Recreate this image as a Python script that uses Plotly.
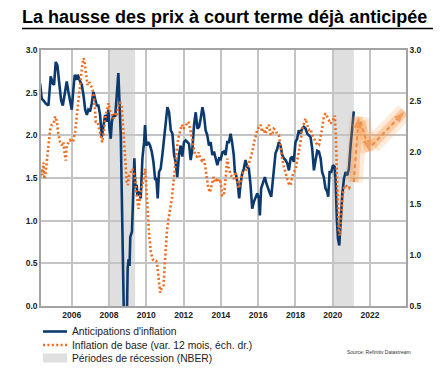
import plotly.graph_objects as go

# ---------------- data ----------------
blue_years = [2004.30, 2004.39, 2004.48, 2004.62, 2004.75, 2004.87, 2004.98, 2005.05, 2005.14, 2005.23,
              2005.32, 2005.43, 2005.52, 2005.64, 2005.73, 2005.82, 2005.91, 2006.00, 2006.09, 2006.16,
              2006.27, 2006.32, 2006.45, 2006.54, 2006.63, 2006.72, 2006.81, 2006.89, 2006.98, 2007.07,
              2007.16, 2007.25, 2007.34, 2007.43, 2007.52, 2007.61, 2007.70, 2007.79, 2007.88, 2007.97,
              2008.02, 2008.09, 2008.15, 2008.24, 2008.33, 2008.38, 2008.45, 2008.50, 2008.56, 2008.63,
              2008.70, 2008.77, 2008.85, 2008.93, 2009.00, 2009.05, 2009.10, 2009.14, 2009.23, 2009.30,
              2009.36, 2009.41, 2009.48, 2009.52, 2009.61, 2009.70, 2009.79, 2009.88, 2009.93, 2010.00,
              2010.11, 2010.20, 2010.29, 2010.38, 2010.47, 2010.54, 2010.61, 2010.68, 2010.77, 2010.86,
              2010.95, 2011.04, 2011.13, 2011.22, 2011.31, 2011.40, 2011.49, 2011.57, 2011.66, 2011.75,
              2011.84, 2011.93, 2012.02, 2012.11, 2012.20, 2012.29, 2012.38, 2012.47, 2012.56, 2012.65,
              2012.74, 2012.83, 2012.92, 2013.01, 2013.09, 2013.18, 2013.27, 2013.36, 2013.45, 2013.54,
              2013.63, 2013.72, 2013.81, 2013.90, 2013.99, 2014.08, 2014.16, 2014.25, 2014.34, 2014.43,
              2014.52, 2014.60, 2014.69, 2014.75, 2014.82, 2014.91, 2014.98, 2015.05, 2015.14, 2015.23,
              2015.32, 2015.41, 2015.50, 2015.59, 2015.68, 2015.77, 2015.86, 2015.95, 2016.04, 2016.09,
              2016.16, 2016.27, 2016.36, 2016.45, 2016.54, 2016.63, 2016.70, 2016.79, 2016.84, 2016.93,
              2017.02, 2017.11, 2017.20, 2017.29, 2017.38, 2017.47, 2017.56, 2017.65, 2017.74, 2017.82,
              2017.91, 2018.00, 2018.09, 2018.18, 2018.27, 2018.36, 2018.45, 2018.54, 2018.63, 2018.72,
              2018.81, 2018.90, 2018.99, 2019.08, 2019.17, 2019.26, 2019.35, 2019.43, 2019.52, 2019.61,
              2019.70, 2019.76, 2019.83, 2019.92, 2020.01, 2020.10, 2020.15, 2020.22, 2020.28, 2020.35,
              2020.42, 2020.51, 2020.60, 2020.69, 2020.78, 2020.87, 2020.96, 2021.04, 2021.13]
blue_vals = [2.61, 2.43, 2.41, 2.37, 2.35, 2.69, 2.61, 2.59, 2.86, 2.82,
             2.63, 2.41, 2.35, 2.53, 2.63, 2.51, 2.39, 2.30, 2.55, 2.71,
             2.65, 2.71, 2.63, 2.59, 2.47, 2.30, 2.24, 2.30, 2.28, 2.37,
             2.51, 2.43, 2.35, 2.35, 2.24, 1.98, 2.12, 2.24, 2.16, 2.30,
             2.08, 1.96, 2.16, 2.24, 2.22, 2.41, 2.55, 2.73, 2.39, 2.00,
             1.10, -0.10, -0.80, -0.50, 0.45, 0.55, 0.47, 0.81, 0.87, 1.34,
             1.73, 1.38, 1.42, 1.30, 1.34, 1.26, 1.73, 1.92, 2.12, 1.88,
             1.92, 1.88, 1.81, 1.69, 1.49, 1.49, 1.26, 1.57, 1.61, 1.77,
             1.96, 2.12, 2.33, 2.27, 2.06, 2.02, 1.77, 1.69, 1.51, 1.77,
             1.88, 1.75, 1.92, 1.94, 1.92, 1.90, 1.71, 1.84, 2.12, 2.27,
             2.08, 2.10, 2.20, 2.33, 2.24, 2.06, 2.00, 1.88, 1.92, 1.77,
             1.81, 1.71, 1.65, 1.73, 1.72, 1.80, 1.81, 1.77, 1.92, 1.92,
             2.02, 1.92, 1.77, 1.57, 1.53, 1.42, 1.26, 1.42, 1.55, 1.61,
             1.71, 1.63, 1.61, 1.42, 1.14, 1.22, 1.28, 1.32, 1.26, 1.06,
             1.38, 1.45, 1.51, 1.43, 1.36, 1.32, 1.28, 1.49, 1.53, 1.79,
             1.84, 1.92, 1.88, 1.77, 1.73, 1.71, 1.67, 1.59, 1.73, 1.75,
             1.69, 1.92, 1.96, 2.06, 2.02, 2.08, 2.10, 2.08, 2.02, 2.00,
             1.98, 1.84, 1.59, 1.71, 1.82, 1.81, 1.73, 1.57, 1.51, 1.38,
             1.34, 1.28, 1.57, 1.57, 1.65, 1.63, 1.49, 1.02, 0.79, 0.71,
             1.02, 1.30, 1.49, 1.57, 1.53, 1.61, 1.88, 2.12, 2.28]

orange_years = [2004.30, 2004.35, 2004.43, 2004.48, 2004.53, 2004.60, 2004.66, 2004.75, 2004.84, 2004.93,
                2005.02, 2005.11, 2005.19, 2005.28, 2005.37, 2005.46, 2005.55, 2005.61, 2005.68, 2005.73,
                2005.82, 2005.91, 2006.00, 2006.09, 2006.18, 2006.27, 2006.36, 2006.45, 2006.54, 2006.63,
                2006.68, 2006.75, 2006.84, 2006.93, 2007.02, 2007.11, 2007.16, 2007.22, 2007.29, 2007.38,
                2007.47, 2007.56, 2007.63, 2007.70, 2007.79, 2007.88, 2007.97, 2008.06, 2008.15, 2008.24,
                2008.33, 2008.42, 2008.50, 2008.59, 2008.68, 2008.77, 2008.86, 2008.95, 2009.01, 2009.08,
                2009.17, 2009.26, 2009.35, 2009.40, 2009.45, 2009.51, 2009.58, 2009.67, 2009.76, 2009.85,
                2009.94, 2009.99, 2010.06, 2010.15, 2010.24, 2010.33, 2010.42, 2010.53, 2010.60, 2010.67,
                2010.74, 2010.83, 2010.92, 2011.01, 2011.10, 2011.19, 2011.28, 2011.37, 2011.46, 2011.55,
                2011.64, 2011.72, 2011.81, 2011.90, 2011.99, 2012.08, 2012.17, 2012.26, 2012.35, 2012.44,
                2012.53, 2012.62, 2012.71, 2012.80, 2012.89, 2012.98, 2013.07, 2013.16, 2013.25, 2013.33,
                2013.42, 2013.51, 2013.60, 2013.69, 2013.78, 2013.87, 2013.96, 2014.07, 2014.16, 2014.25,
                2014.34, 2014.43, 2014.52, 2014.60, 2014.69, 2014.78, 2014.87, 2014.96, 2015.05, 2015.14,
                2015.23, 2015.32, 2015.41, 2015.50, 2015.59, 2015.68, 2015.77, 2015.86, 2015.95, 2016.04,
                2016.13, 2016.21, 2016.30, 2016.39, 2016.48, 2016.57, 2016.66, 2016.75, 2016.84, 2016.93,
                2017.02, 2017.11, 2017.20, 2017.29, 2017.38, 2017.47, 2017.56, 2017.65, 2017.74, 2017.82,
                2017.91, 2018.00, 2018.09, 2018.18, 2018.27, 2018.36, 2018.45, 2018.54, 2018.63, 2018.72,
                2018.81, 2018.90, 2018.99, 2019.08, 2019.17, 2019.26, 2019.35, 2019.43, 2019.52, 2019.61,
                2019.70, 2019.79, 2019.88, 2019.97, 2020.06, 2020.11, 2020.17, 2020.22, 2020.28, 2020.33,
                2020.38, 2020.45, 2020.53, 2020.60, 2020.69, 2020.78, 2020.87, 2020.96]
orange_vals = [1.76, 1.84, 1.78, 1.90, 1.74, 1.80, 1.91, 2.07, 2.22, 2.27,
               2.28, 2.35, 2.31, 2.18, 2.10, 2.07, 2.10, 2.00, 1.92, 2.07,
               2.10, 2.12, 2.10, 2.12, 2.20, 2.36, 2.53, 2.69, 2.82, 2.92,
               2.90, 2.79, 2.66, 2.69, 2.66, 2.62, 2.56, 2.49, 2.30, 2.30,
               2.23, 2.14, 2.10, 2.17, 2.33, 2.41, 2.48, 2.40, 2.36, 2.33,
               2.38, 2.36, 2.46, 2.49, 2.45, 2.20, 1.97, 1.71, 1.68, 1.78,
               1.81, 1.84, 1.78, 1.74, 1.63, 1.51, 1.45, 1.58, 1.65, 1.74,
               1.84, 1.68, 1.42, 1.19, 1.03, 0.96, 0.94, 0.94, 0.88, 0.76,
               0.63, 0.68, 0.70, 0.96, 1.22, 1.35, 1.45, 1.55, 1.71, 1.91,
               2.04, 2.14, 2.20, 2.27, 2.23, 2.25, 2.28, 2.30, 2.23, 2.14,
               2.04, 1.97, 1.96, 2.00, 1.94, 1.92, 1.94, 1.87, 1.74, 1.65,
               1.61, 1.68, 1.76, 1.71, 1.73, 1.71, 1.74, 1.58, 1.58, 1.74,
               1.94, 1.84, 1.78, 1.76, 1.74, 1.81, 1.71, 1.65, 1.71, 1.79,
               1.81, 1.83, 1.84, 1.89, 1.94, 2.00, 2.09, 2.17, 2.22, 2.25,
               2.27, 2.20, 2.23, 2.18, 2.25, 2.27, 2.18, 2.17, 2.23, 2.22,
               2.18, 2.17, 2.04, 1.94, 1.86, 1.79, 1.74, 1.69, 1.68, 1.76,
               1.81, 1.83, 1.91, 2.00, 2.10, 2.23, 2.28, 2.33, 2.27, 2.22,
               2.23, 2.17, 2.14, 2.10, 2.07, 2.07, 2.14, 2.23, 2.35, 2.38,
               2.35, 2.31, 2.28, 2.31, 2.33, 2.36, 2.14, 1.81, 1.48, 1.22,
               1.19, 1.38, 1.58, 1.65, 1.68, 1.66, 1.65, 1.69]

recession_start = [2007.96, 2020.05]
recession_end = [2009.40, 2021.13]

# projected path arrows (right axis)
arrow_x = [[2021.13, 2021.39], [2021.49, 2021.98], [2022.11, 2023.86]]
arrow_y = [[1.71, 2.35], [2.30, 2.01], [2.07, 2.40]]

x_ticks = [2006, 2008, 2010, 2012, 2014, 2016, 2018, 2020, 2022]
left_ticks = [0.0, 0.5, 1.0, 1.5, 2.0, 2.5, 3.0]
right_ticks = [0.5, 1.0, 1.5, 2.0, 2.5, 3.0]

title_text = "La hausse des prix à court terme déjà anticipée"
legend_labels = ["Anticipations d'inflation",
                 "Inflation de base (var. 12 mois, éch. dr.)",
                 "Périodes de récession (NBER)"]
source_text = "Source: Refinitiv Datastream"

# ---------------- styling ----------------
FONT = "Liberation Sans, Arial, sans-serif"
BLUE = "#0d3a6e"
ORANGE = "#f26a1b"
ARROW = "#f08a45"
GRID = "#c4c4c4"
AXIS = "#a3a3a3"
SHADE = "#dfdfdf"

OFF = 8  # page body margin offset
W, H = 448 - OFF, 384 - OFF
L, T = 41 - OFF, 50 - OFF
pw, ph = 365, 256
R, B = W - L - pw, H - T - ph


def px(xpix):
    return (xpix - OFF - L) / pw


def py(ypix):
    return (T + ph - (ypix - OFF)) / ph


fig = go.Figure()

# glow under arrows
for ax_, ay_ in zip(arrow_x, arrow_y):
    fig.add_trace(go.Scatter(x=ax_, y=ay_, yaxis="y2", mode="lines",
                             line=dict(color="rgba(250,160,80,0.22)", width=18),
                             hoverinfo="skip", showlegend=False))
    fig.add_trace(go.Scatter(x=ax_, y=ay_, yaxis="y2", mode="lines",
                             line=dict(color="rgba(248,150,65,0.35)", width=9),
                             hoverinfo="skip", showlegend=False))

fig.add_trace(go.Scatter(x=orange_years, y=orange_vals, yaxis="y2", mode="lines",
                         name=legend_labels[1],
                         line=dict(color=ORANGE, width=2.6, dash="2px,2.4px"),
                         showlegend=False))
fig.add_trace(go.Scatter(x=blue_years, y=blue_vals, yaxis="y", mode="lines",
                         name=legend_labels[0],
                         line=dict(color=BLUE, width=2.6),
                         showlegend=False))

for ax_, ay_ in zip(arrow_x, arrow_y):
    fig.add_trace(go.Scatter(x=ax_, y=ay_, yaxis="y2", mode="lines+markers",
                             line=dict(color=ARROW, width=2, dash="4px,3px"),
                             marker=dict(symbol=["circle", "arrow"], size=[0, 12],
                                         angleref="previous", color=ARROW,
                                         line=dict(width=0)),
                             hoverinfo="skip", showlegend=False))

shapes = []
for s, e in zip(recession_start, recession_end):
    shapes.append(dict(type="rect", xref="x", yref="paper", x0=s, x1=e, y0=0, y1=1,
                       fillcolor=SHADE, line=dict(width=0), layer="below"))

# title underline
shapes.append(dict(type="line", xref="paper", yref="paper",
                   x0=px(22), x1=px(433), y0=py(28.5), y1=py(28.5),
                   line=dict(color="black", width=1.5)))

# manual legend
leg_y = [331.5, 345, 358]
shapes.append(dict(type="line", xref="paper", yref="paper", x0=px(43), x1=px(67),
                   y0=py(leg_y[0]), y1=py(leg_y[0]), line=dict(color=BLUE, width=2.6)))
shapes.append(dict(type="line", xref="paper", yref="paper", x0=px(43), x1=px(67),
                   y0=py(leg_y[1]), y1=py(leg_y[1]),
                   line=dict(color=ORANGE, width=2.6, dash="2px,2.4px")))
shapes.append(dict(type="rect", xref="paper", yref="paper", x0=px(43), x1=px(67),
                   y0=py(leg_y[2] + 4.5), y1=py(leg_y[2] - 4.5),
                   fillcolor=SHADE, line=dict(width=0)))

annotations = []
for lab, yy in zip(legend_labels, leg_y):
    annotations.append(dict(text=lab, xref="paper", yref="paper", x=px(70), y=py(yy),
                            xanchor="left", yanchor="middle", showarrow=False,
                            font=dict(family=FONT, size=10.3, color="#222222")))
annotations.append(dict(text=source_text, xref="paper", yref="paper", x=px(413), y=py(352),
                        xanchor="right", yanchor="middle", showarrow=False,
                        font=dict(family=FONT, size=5, color="#333333")))

tickfont = dict(family=FONT, size=8.5, color="#222222", weight="bold")

fig.update_layout(
    width=W, height=H,
    margin=dict(l=L, r=R, t=T, b=B, autoexpand=False),
    paper_bgcolor="white", plot_bgcolor="white",
    title=dict(text=title_text, x=(22 - OFF) / W, xanchor="left", xref="container",
               y=1 - (16.5 - OFF) / H, yanchor="middle", yref="container",
               font=dict(family=FONT, size=18, color="black", weight="bold")),
    xaxis=dict(range=[2004.35, 2023.93], tickvals=x_ticks,
               ticktext=[str(v) for v in x_ticks],
               showgrid=True, gridcolor=GRID, gridwidth=1.5,
               showline=True, linecolor=AXIS, linewidth=1.5, mirror=True,
               ticks="", zeroline=False, tickfont=tickfont),
    yaxis=dict(range=[0, 3], tickvals=left_ticks,
               ticktext=[f"{v:.1f}" for v in left_ticks],
               showgrid=True, gridcolor=GRID, gridwidth=1.5,
               showline=True, linecolor=AXIS, linewidth=1.5,
               ticks="", zeroline=False, tickfont=tickfont),
    yaxis2=dict(range=[0.5, 3], tickvals=right_ticks,
                ticktext=[f"{v:.1f}" for v in right_ticks],
                overlaying="y", side="right", showgrid=False,
                showline=True, linecolor=AXIS, linewidth=1.5,
                ticks="", zeroline=False, tickfont=tickfont),
    shapes=shapes,
    annotations=annotations,
    showlegend=False,
)

fig.write_html("out.html")
